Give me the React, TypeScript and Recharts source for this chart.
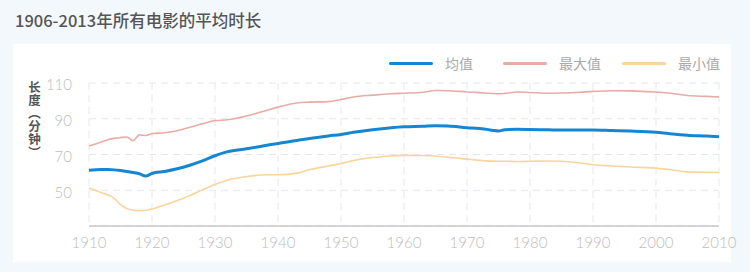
import { LineChart, Line, XAxis, YAxis, CartesianGrid } from 'recharts';

const colors = {
  mean: '#1786d2',
  max: '#e9aba5',
  min: '#f8d59d',
  grid: '#e3e8ef',
  axis: '#c8c8c8',
  tick: '#bdbdbd',
  title: '#555555',
};

const years = [
  1910, 1912, 1913, 1914, 1915, 1916, 1917, 1918, 1919, 1920, 1922, 1924, 1926, 1928, 1930, 1932,
  1935, 1938, 1940, 1943, 1945, 1948, 1950, 1952, 1955, 1958, 1960, 1963, 1965, 1967, 1970, 1972,
  1974, 1975, 1976, 1978, 1980, 1983, 1985, 1988, 1990, 1993, 1996, 2000, 2002, 2005, 2008, 2010,
];

const meanValues = [
  61.2, 61.6, 61.6, 61.4, 61.0, 60.5, 59.9, 59.2, 58.0, 59.4, 60.5, 62.0, 64.0, 66.4, 69.3, 71.6,
  73.2, 75.0, 76.2, 77.8, 79.0, 80.4, 81.2, 82.4, 83.9, 85.0, 85.5, 85.8, 86.1, 85.9, 85.0, 84.5,
  83.6, 83.1, 83.9, 84.1, 84.0, 83.8, 83.7, 83.7, 83.7, 83.4, 83.1, 82.4, 81.7, 80.8, 80.3, 79.9,
];

const maxValues = [
  74.8, 77.0, 78.3, 79.0, 79.5, 79.8, 77.7, 81.0, 80.6, 81.6, 82.2, 83.3, 85.2, 87.2, 89.0, 89.4,
  91.5, 94.5, 96.5, 98.8, 99.3, 99.6, 100.8, 102.2, 103.2, 104.0, 104.3, 104.8, 105.8, 105.7, 105.0, 104.6,
  104.1, 104.0, 104.2, 105.0, 104.7, 104.3, 104.4, 104.8, 105.3, 105.7, 105.6, 104.9, 104.4, 103.0, 102.5, 102.2,
];

const minValues = [
  51.2, 48.6, 47.4, 45.5, 42.0, 39.8, 38.9, 38.5, 38.8, 39.5, 41.8, 44.2, 47.0, 50.2, 53.2, 55.7,
  57.6, 58.7, 58.7, 59.6, 61.5, 63.6, 65.0, 66.6, 68.3, 69.2, 69.5, 69.4, 69.0, 68.5, 67.4, 66.7,
  66.3, 66.2, 66.2, 66.1, 66.2, 66.4, 66.2, 65.2, 64.3, 63.6, 63.0, 62.4, 61.6, 60.3, 60.0, 59.9,
];

const xTicks = [1910, 1920, 1930, 1940, 1950, 1960, 1970, 1980, 1990, 2000, 2010];
const yTicks = [30, 50, 70, 90, 110];

const seriesNames = ['均值', '最大值', '最小值'];
// vertical presentation forms for the parentheses
const yLabel = '长度︵分钟︶';

const data = years.map((year, i) => ({
  year,
  mean: meanValues[i],
  max: maxValues[i],
  min: minValues[i],
}));

const legendItems = [
  { name: seriesNames[0], color: colors.mean, left: 389 },
  { name: seriesNames[1], color: colors.max, left: 503 },
  { name: seriesNames[2], color: colors.min, left: 622 },
];

function ChartLegend() {
  return (
    <>
      {legendItems.map((item) => (
        <div
          key={item.name}
          style={{ position: 'absolute', left: item.left, top: 53, display: 'flex', alignItems: 'center', height: 20 }}
        >
          <div style={{ width: 44, height: 3, borderRadius: 2, background: item.color }} />
          <span style={{ marginLeft: 12, fontSize: 14, color: '#aaaaaa' }}>{item.name}</span>
        </div>
      ))}
    </>
  );
}

export default function App() {
  return (
    <div
      style={{
        position: 'absolute',
        left: 0,
        top: 0,
        width: 750,
        height: 272,
        background: '#f3f8fd',
        overflow: 'hidden',
        fontFamily: '"Noto Sans CJK SC", "Noto Sans", sans-serif',
      }}
    >
      <div
        style={{
          position: 'absolute',
          left: 15,
          top: 10,
          fontSize: 16.5,
          lineHeight: '20px',
          color: colors.title,
          fontWeight: 500,
        }}
      >
        1906-2013年所有电影的平均时长
      </div>
      <div style={{ position: 'absolute', left: 13, top: 44, width: 718, height: 218, background: '#ffffff' }} />
      <div
        style={{
          position: 'absolute',
          left: 27,
          top: 81,
          writingMode: 'vertical-rl',
          textOrientation: 'upright',
          fontSize: 12.5,
          lineHeight: '14px',
          letterSpacing: 0.5,
          fontWeight: 700,
          color: colors.title,
        }}
      >
        {yLabel}
      </div>
      <ChartLegend />
      <div style={{ position: 'absolute', left: 0, top: 0 }}>
        <LineChart width={750} height={272} data={data} margin={{ top: 83, right: 31, bottom: 16, left: 49 }}>
          <CartesianGrid
            strokeDasharray="7 5"
            stroke={colors.grid}
            verticalValues={xTicks}
            horizontalValues={yTicks}
          />
          <XAxis
            dataKey="year"
            type="number"
            domain={[1910, 2010]}
            ticks={xTicks}
            height={30}
            tickLine={false}
            tickSize={0}
            tickMargin={11}
            axisLine={{ stroke: colors.axis, strokeWidth: 1.5 }}
            tick={{ fill: colors.tick, fontSize: 15, fontFamily: 'Lato, sans-serif', fontWeight: 300 }}
          />
          <YAxis
            type="number"
            domain={[30, 110]}
            ticks={yTicks}
            width={40}
            tickLine={false}
            axisLine={false}
            tickSize={0}
            tickMargin={17}
            tickFormatter={(v) => (v === 30 ? '' : String(v))}
            tick={{ fill: colors.tick, fontSize: 15, fontFamily: 'Lato, sans-serif', fontWeight: 300, dy: 2 }}
          />
          <Line
            type="monotone"
            dataKey="mean"
            name={seriesNames[0]}
            stroke={colors.mean}
            strokeWidth={3}
            dot={false}
            isAnimationActive={false}
          />
          <Line
            type="monotone"
            dataKey="max"
            name={seriesNames[1]}
            stroke={colors.max}
            strokeWidth={1.6}
            dot={false}
            isAnimationActive={false}
          />
          <Line
            type="monotone"
            dataKey="min"
            name={seriesNames[2]}
            stroke={colors.min}
            strokeWidth={1.6}
            dot={false}
            isAnimationActive={false}
          />
        </LineChart>
      </div>
    </div>
  );
}
